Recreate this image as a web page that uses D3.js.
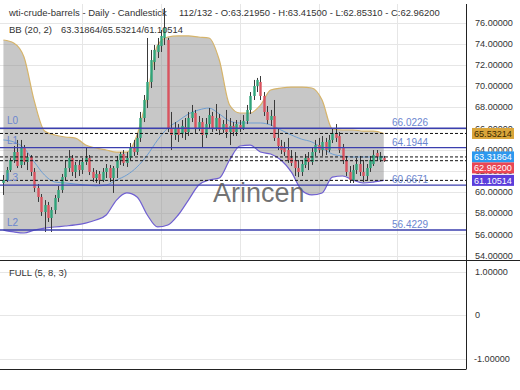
<!DOCTYPE html>
<html>
<head>
<meta charset="utf-8">
<script src="https://cdn.jsdelivr.net/npm/d3@7"></script>
<style>
  body { margin: 0; background: #fff; }
  svg { display: block; font-family: "Liberation Sans", Arial, sans-serif; }
</style>
</head>
<body>
<div id="chart"></div>
<script>
// candles (bar 0 .. bar 111)
const opens = [60.86,61.14,62.08,63.03,63.78,62.56,64.16,62.84,63.31,61.90,60.39,59.54,58.12,58.78,57.56,58.31,59.44,60.20,61.42,62.27,
  63.22,61.90,62.56,62.08,62.84,63.22,61.90,61.33,61.71,61.14,61.90,62.27,61.33,62.27,63.03,63.59,62.75,63.22,64.16,63.78,
  65.11,66.99,68.69,70.39,72.27,73.22,73.78,74.54,74.35,66.05,65.39,66.05,65.48,66.14,65.67,66.99,67.46,66.05,66.61,65.39,
  66.42,67.18,66.05,66.99,65.86,66.42,65.67,66.24,65.67,66.33,66.05,66.71,67.75,69.07,70.01,70.39,69.07,67.56,66.80,67.18,
  65.11,64.35,64.16,63.97,63.22,63.03,62.27,61.90,62.56,63.22,62.84,63.78,64.44,63.97,64.73,63.97,64.92,65.48,65.29,64.16,
  63.03,61.90,61.14,62.08,62.65,61.90,61.52,62.27,62.65,63.69,63.05,63.2195];
const highs = [61.61,62.37,63.22,64.35,64.92,64.92,64.44,63.69,63.50,62.27,60.76,59.82,59.25,59.07,58.59,59.73,60.58,61.71,63.03,63.97,
  63.50,62.84,63.03,63.22,64.16,63.50,62.27,62.08,61.99,62.27,62.65,62.56,62.46,63.41,63.78,63.97,63.78,64.63,64.92,65.58,
  67.56,69.16,74.54,73.41,73.88,74.54,75.29,77.37,74.54,67.56,66.61,66.42,66.80,66.99,67.56,68.22,67.75,67.18,66.99,66.99,
  67.93,67.56,68.31,67.37,66.80,67.75,66.99,66.61,66.80,66.80,67.27,68.22,69.44,70.58,70.77,70.95,69.44,68.12,67.75,68.69,
  66.05,64.92,64.73,65.11,63.97,63.78,63.03,63.03,63.59,63.78,64.16,64.92,65.11,65.29,65.11,65.39,66.05,66.42,65.67,64.54,
  63.41,62.46,62.56,63.22,63.41,63.03,62.65,63.41,63.97,63.97,63.78,63.415];
const lows = [59.73,60.95,61.90,62.75,62.27,62.27,62.56,62.08,61.52,60.01,59.07,57.75,56.24,57.18,56.24,57.93,59.07,59.92,61.14,61.90,
  61.52,61.33,61.52,61.71,62.56,61.61,60.95,60.86,60.76,60.95,61.33,60.95,59.92,61.33,62.56,62.46,62.37,63.03,63.41,63.50,
  64.73,66.61,67.93,69.82,71.52,72.65,73.22,73.88,65.67,63.97,64.92,64.73,65.11,64.92,65.29,66.61,65.58,65.76,64.16,65.11,
  66.05,65.67,65.76,65.39,65.58,65.11,64.44,65.29,65.29,65.67,65.86,66.42,67.37,68.69,69.44,68.69,67.18,66.42,66.24,64.82,
  63.97,63.59,63.41,62.75,62.46,61.52,61.42,61.52,62.27,62.08,62.56,63.41,63.69,63.41,63.50,63.78,64.63,64.73,63.69,62.65,
  61.52,60.86,60.86,61.71,61.52,60.95,61.14,61.90,62.46,62.93,62.84,62.8531];
const closes = [61.14,62.08,63.03,63.78,62.46,64.16,62.84,63.31,61.90,60.39,59.54,58.12,58.78,57.56,58.31,59.44,60.20,61.42,62.27,63.22,
  61.90,62.56,62.08,62.84,63.22,61.90,61.33,61.71,61.14,61.90,62.27,61.33,62.27,63.03,63.59,62.75,63.22,64.16,63.78,65.11,
  66.99,68.69,70.39,72.46,73.41,73.88,74.73,75.48,66.05,65.39,66.05,65.39,66.24,65.67,66.99,67.56,66.05,66.61,65.39,66.42,
  67.27,66.05,66.99,65.86,66.42,65.67,66.24,65.67,66.42,66.05,66.71,67.75,69.07,70.01,70.58,69.07,67.56,66.80,67.18,65.11,
  64.35,63.97,63.78,63.03,62.75,62.27,61.90,62.65,63.22,62.84,63.78,64.44,63.97,64.73,63.97,64.92,65.58,65.11,63.97,63.03,
  61.90,61.14,62.08,62.65,61.90,61.52,62.27,63.03,63.50,63.31,63.42,62.962];

// Bollinger bands (20, 2), read every 3rd bar
const bbStep = 3;
const bbUpper = [74.35,74.07,72.75,68.60,65.76,65.39,65.20,65.10,64.44,64.16,63.97,63.78,63.78,65.39,69.16,73.88,74.63,74.73,74.73,74.63,
  74.54,72.46,68.22,67.46,67.46,68.20,69.63,69.82,69.91,69.91,69.82,68.69,65.95,65.86,65.86,65.76,65.76,65.53214];
const bbMid = [64.92,64.73,64.16,62.84,61.61,60.95,60.86,60.76,60.67,60.58,60.67,61.14,61.61,62.37,63.50,64.92,66.05,66.71,67.37,67.75,
  67.93,67.37,66.71,66.52,66.52,66.52,66.33,65.86,65.39,65.00,64.73,64.16,63.59,63.40,63.31,63.31,63.31,63.31864];
const bbLower = [56.42,56.24,56.14,56.42,56.61,56.71,56.80,56.90,57.08,57.37,57.84,59.25,59.92,59.54,57.84,56.71,56.90,57.84,59.25,60.67,
  61.14,61.33,63.03,64.35,64.44,63.78,63.59,63.03,61.90,60.20,59.73,59.92,61.42,61.52,61.14,60.86,60.95,61.10514];

// horizontal levels
const levelNames = ["L0", "L1", "L3", "L2"];
const levelValues = [66.0226, 64.1944, 60.6671, 56.4229];

// current values marked on the price axis (BB upper, BB mid, close, BB lower)
const markerValues = [65.53214, 63.31864, 62.962, 61.10514];

const priceTicks = [54, 56, 58, 60, 62, 64, 66, 68, 70, 72, 74, 76];
const oscTicks = [1, 0, -1];
const gridBars = [23, 46, 69, 92, 115];

const titleLeft = "wti-crude-barrels - Daily - Candlestick";
const titleRight = "112/132 - O:63.21950 - H:63.41500 - L:62.85310 - C:62.96200";
const bbTitle = "BB (20, 2)";
const bbValues = "63.31864/65.53214/61.10514";
const oscTitle = "FULL (5, 8, 3)";

const W = 520, H = 390;
const plotRight = 466;
const mainTop = 4, mainBottom = 260, subBottom = 369;

const svg = d3.select("#chart").append("svg")
  .attr("width", W).attr("height", H)
  .attr("viewBox", `0 0 ${W} ${H}`);

// scale a text's font so it spans the width seen in the reference
function fitWidth(sel, target) {
  const w = sel.node().getComputedTextLength();
  const fs = +sel.attr("font-size");
  if (w > 0) sel.attr("font-size", (fs * target / w).toFixed(2));
  return +sel.attr("font-size");
}

const x = d3.scaleLinear().domain([-1, 135]).range([0, plotRight]);
const y = d3.scaleLinear().domain([54, 76]).range([255.7, 22.5]);
const y2 = d3.scaleLinear().domain([-1, 1]).range([358.5, 272]);

svg.append("defs").append("clipPath").attr("id", "mainClip")
  .append("rect").attr("x", 0).attr("y", mainTop)
  .attr("width", plotRight).attr("height", mainBottom - mainTop);

// grid
const grid = svg.append("g").attr("stroke", "#e6e6e6").attr("stroke-width", 1);
grid.selectAll(".hg").data(priceTicks).join("line")
  .attr("x1", 0).attr("x2", plotRight)
  .attr("y1", d => Math.round(y(d)) + 0.5).attr("y2", d => Math.round(y(d)) + 0.5);
grid.selectAll(".vg").data(gridBars).join("line")
  .attr("x1", d => Math.round(x(d)) + 0.5).attr("x2", d => Math.round(x(d)) + 0.5)
  .attr("y1", mainTop).attr("y2", mainBottom);
grid.selectAll(".og").data(oscTicks).join("line")
  .attr("x1", 0).attr("x2", plotRight)
  .attr("y1", d => Math.round(y2(d)) + 0.5).attr("y2", d => Math.round(y2(d)) + 0.5);

const main = svg.append("g").attr("clip-path", "url(#mainClip)");

// band fill
const bbIdx = bbUpper.map((d, i) => i * bbStep);
const band = d3.area()
  .x((d, i) => x(bbIdx[i]))
  .y0((d, i) => y(bbLower[i]))
  .y1(d => y(d))
  .curve(d3.curveMonotoneX);
main.append("path").datum(bbUpper)
  .attr("d", band)
  .attr("fill", "#8a8a8a").attr("fill-opacity", 0.48);

const bbLine = vals => d3.line()
  .x((d, i) => x(bbIdx[i]))
  .y(d => y(d))
  .curve(d3.curveMonotoneX)(vals);

main.append("path").attr("d", bbLine(bbUpper))
  .attr("fill", "none").attr("stroke", "#d6b46a").attr("stroke-width", 1.2);
main.append("path").attr("d", bbLine(bbLower))
  .attr("fill", "none").attr("stroke", "#6f5fd2").attr("stroke-width", 1.2);
main.append("path").attr("d", bbLine(bbMid))
  .attr("fill", "none").attr("stroke", "#6f9fd3").attr("stroke-width", 1);

// candles
const bodyW = 2.4;
const candles = main.append("g");
closes.forEach((c, i) => {
  const o = opens[i];
  const up = c >= o;
  const cx = Math.round(x(i)) + 0.5;
  candles.append("line")
    .attr("x1", cx).attr("x2", cx)
    .attr("y1", y(highs[i])).attr("y2", y(lows[i]))
    .attr("stroke", "#3a3a3a").attr("stroke-width", 1);
  const top = y(Math.max(o, c)), bot = y(Math.min(o, c));
  candles.append("rect")
    .attr("x", cx - bodyW / 2).attr("width", bodyW)
    .attr("y", top).attr("height", Math.max(1, bot - top))
    .attr("fill", up ? "#2fa37a" : "#d9535f");
});

// dashed markers
main.selectAll(".mk").data(markerValues).join("line")
  .attr("x1", 0).attr("x2", plotRight)
  .attr("y1", d => y(d)).attr("y2", d => y(d))
  .attr("stroke", "#111").attr("stroke-width", 1)
  .attr("stroke-dasharray", "3,2");

// levels
main.selectAll(".lv").data(levelValues).join("line")
  .attr("x1", 0).attr("x2", plotRight)
  .attr("y1", d => y(d)).attr("y2", d => y(d))
  .attr("stroke", "#3b3fae").attr("stroke-width", 1.3);

main.selectAll(".lvn").data(levelNames).join("text")
  .attr("x", 7).attr("y", (d, i) => y(levelValues[i]) - 4)
  .attr("font-size", 10).attr("fill", "#6b86cf")
  .text(d => d);
main.selectAll(".lvv").data(levelValues).join("text")
  .attr("x", 392).attr("y", d => y(d) - 2)
  .attr("font-size", 10).attr("fill", "#6b86cf")
  .text(d => d.toFixed(4));

// watermark
svg.append("text")
  .attr("x", 213).attr("y", 202)
  .attr("font-size", 27).attr("fill", "#5a5a5a").attr("fill-opacity", 0.85)
  .text("Arincen");

// frames
const frame = svg.append("g").attr("stroke", "#222").attr("stroke-width", 1).attr("fill", "none");
frame.append("line").attr("x1", plotRight + 0.5).attr("x2", plotRight + 0.5).attr("y1", mainTop).attr("y2", subBottom);
frame.append("line").attr("x1", 0).attr("x2", W).attr("y1", mainBottom + 0.5).attr("y2", mainBottom + 0.5);
frame.append("line").attr("x1", 0).attr("x2", plotRight + 0.5).attr("y1", subBottom + 0.5).attr("y2", subBottom + 0.5);

// price axis
const priceLabels = svg.append("g").selectAll("text").data(priceTicks).join("text")
  .attr("x", 475).attr("y", d => y(d)).attr("dy", "0.35em")
  .attr("font-size", 9.5).attr("fill", "#333")
  .text(d => d.toFixed(5));
const axisFs = fitWidth(d3.select(priceLabels.nodes()[priceLabels.size() - 1]), 38);
priceLabels.attr("font-size", axisFs);

// axis markers with simple overlap avoidance
const markerFill = ["#d9a53a", "#2d98ee", "#ea4654", "#5b3ddb"];
const markerText = ["#3a2a00", "#fff", "#fff", "#fff"];
const boxH = 11;
let lastBottom = -Infinity;
const boxes = markerValues.map(v => {
  let cy = y(v);
  if (cy - boxH / 2 < lastBottom) cy = lastBottom + boxH / 2;
  lastBottom = cy + boxH / 2;
  return cy;
});
const mk = svg.append("g");
markerValues.forEach((v, i) => {
  mk.append("rect")
    .attr("x", 472).attr("y", boxes[i] - boxH / 2)
    .attr("width", 42).attr("height", boxH)
    .attr("fill", markerFill[i]);
  mk.append("text")
    .attr("x", 474).attr("y", boxes[i]).attr("dy", "0.35em")
    .attr("font-size", axisFs).attr("fill", markerText[i])
    .text(v.toFixed(5));
});

// oscillator axis
svg.append("g").selectAll("text").data(oscTicks).join("text")
  .attr("x", d => d < 0 ? 474 : 475).attr("y", d => y2(d)).attr("dy", "0.35em")
  .attr("font-size", axisFs).attr("fill", "#333")
  .text(d => d === 0 ? "0" : d.toFixed(5));

// titles
const t = svg.append("g").attr("fill", "#333");
fitWidth(t.append("text").attr("x", 9).attr("y", 16).attr("font-size", 9.5).text(titleLeft), 158);
fitWidth(t.append("text").attr("x", 179).attr("y", 16).attr("font-size", 9.5).text(titleRight), 261);
fitWidth(t.append("text").attr("x", 9).attr("y", 33).attr("font-size", 9.5).text(bbTitle), 43);
fitWidth(t.append("text").attr("x", 61).attr("y", 33).attr("font-size", 9.5).text(bbValues), 122);
fitWidth(t.append("text").attr("x", 9).attr("y", 276).attr("font-size", 9.5).text(oscTitle), 58);
</script>
</body>
</html>
